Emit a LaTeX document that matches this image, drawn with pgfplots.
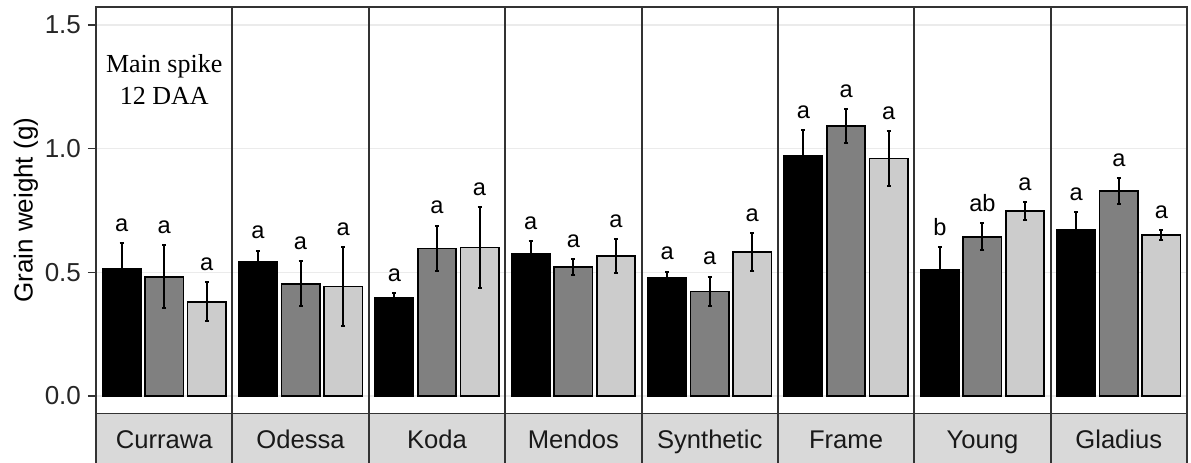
\documentclass[border=0pt]{standalone}
\usepackage{pgfplots}
\pgfplotsset{compat=1.18}
\usepackage{pgfplotstable}
\usepackage{fontspec}
\setmainfont{Liberation Sans}
\newfontfamily\serifx{Liberation Serif}

% x = panel*3.2 + (j - 0.4), j = 1..3
\pgfplotstableread{
x y err lab
0.6 0.516 0.101 a
3.8 0.543 0.045 a
7.0 0.396 0.022 a
10.2 0.573 0.053 a
13.4 0.477 0.026 a
16.6 0.970 0.105 a
19.8 0.512 0.090 b
23.0 0.671 0.072 a
}\serA
\pgfplotstableread{
x y err lab
1.6 0.482 0.127 a
4.8 0.454 0.090 a
8.0 0.597 0.092 a
11.2 0.522 0.032 a
14.4 0.423 0.060 a
17.6 1.092 0.067 a
20.8 0.644 0.055 ab
24.0 0.829 0.054 a
}\serB
\pgfplotstableread{
x y err lab
2.6 0.381 0.078 a
5.8 0.442 0.160 a
9.0 0.601 0.163 a
12.2 0.566 0.070 a
15.4 0.582 0.078 a
18.6 0.961 0.111 a
21.8 0.748 0.035 a
25.0 0.651 0.019 a
}\serC

\definecolor{border}{HTML}{333333}
\definecolor{stripfill}{HTML}{D9D9D9}
\definecolor{gridc}{HTML}{EBEBEB}

\begin{document}
\begin{tikzpicture}
\begin{axis}[
  name=ax,
  scale only axis,
  width=545.5pt, height=203.25pt,
  xmin=0, xmax=25.6,
  ymin=-0.0708, ymax=1.573,
  clip=false,
  axis line style={draw=border, line width=0.9pt},
  xtick=\empty,
  extra x ticks={3.2,6.4,9.6,12.8,16,19.2,22.4},
  extra x tick labels={},
  extra x tick style={grid=major, major grid style={draw=border, line width=1pt}, major tick length=0pt},
  ytick={0,0.5,1,1.5},
  ymajorgrids,
  grid style={draw=gridc, line width=0.7pt},
  tick align=outside,
  ytick pos=left,
  major tick length=4pt,
  tick style={draw=border, line width=0.7pt},
  yticklabel style={font=\fontsize{13}{15}\selectfont, text=black!85, /pgf/number format/.cd, fixed, fixed zerofill, precision=1, assume math mode=true},
]
\addplot[ybar, bar width=0.9, bar shift=0pt, fill=black, draw=black, line width=0.8pt,
  error bars/.cd, y dir=both, y explicit,
  error bar style={line width=1pt, black},
  error mark options={line width=1pt, mark size=1pt, black, rotate=90}]
  table[x=x, y=y, y error=err] {\serA};
\addplot[ybar, bar width=0.9, bar shift=0pt, fill=black!50, draw=black, line width=0.8pt,
  error bars/.cd, y dir=both, y explicit,
  error bar style={line width=1pt, black},
  error mark options={line width=1pt, mark size=1pt, black, rotate=90}]
  table[x=x, y=y, y error=err] {\serB};
\addplot[ybar, bar width=0.9, bar shift=0pt, fill=black!20, draw=black, line width=0.8pt,
  error bars/.cd, y dir=both, y explicit,
  error bar style={line width=1pt, black},
  error mark options={line width=1pt, mark size=1pt, black, rotate=90}]
  table[x=x, y=y, y error=err] {\serC};
% significance letters
\addplot[draw=none, mark=none, nodes near coords, point meta=explicit symbolic,
  nodes near coords style={anchor=base, inner sep=0pt, font=\fontsize{11.8}{13}\selectfont, text=black}]
  table[x=x, y expr=\thisrow{y}+\thisrow{err}+0.047, meta=lab] {\serA};
\addplot[draw=none, mark=none, nodes near coords, point meta=explicit symbolic,
  nodes near coords style={anchor=base, inner sep=0pt, font=\fontsize{11.8}{13}\selectfont, text=black}]
  table[x=x, y expr=\thisrow{y}+\thisrow{err}+0.047, meta=lab] {\serB};
\addplot[draw=none, mark=none, nodes near coords, point meta=explicit symbolic,
  nodes near coords style={anchor=base, inner sep=0pt, font=\fontsize{11.8}{13}\selectfont, text=black}]
  table[x=x, y expr=\thisrow{y}+\thisrow{err}+0.047, meta=lab] {\serC};
% strips
\draw[fill=stripfill, draw=border, line width=0.9pt] (axis cs:0,-0.0708) rectangle (axis cs:25.6,-0.32);
\draw[draw=border, line width=1pt] (axis cs:3.2,-0.0708) -- (axis cs:3.2,-0.32);
\draw[draw=border, line width=1pt] (axis cs:6.4,-0.0708) -- (axis cs:6.4,-0.32);
\draw[draw=border, line width=1pt] (axis cs:9.6,-0.0708) -- (axis cs:9.6,-0.32);
\draw[draw=border, line width=1pt] (axis cs:12.8,-0.0708) -- (axis cs:12.8,-0.32);
\draw[draw=border, line width=1pt] (axis cs:16,-0.0708) -- (axis cs:16,-0.32);
\draw[draw=border, line width=1pt] (axis cs:19.2,-0.0708) -- (axis cs:19.2,-0.32);
\draw[draw=border, line width=1pt] (axis cs:22.4,-0.0708) -- (axis cs:22.4,-0.32);
\path (axis cs:1.6,-0.2115) node[anchor=base, inner sep=0pt, font=\fontsize{12.8}{15}\selectfont, text=black!90] {Currawa};
\path (axis cs:4.8,-0.2115) node[anchor=base, inner sep=0pt, font=\fontsize{12.8}{15}\selectfont, text=black!90] {Odessa};
\path (axis cs:8.0,-0.2115) node[anchor=base, inner sep=0pt, font=\fontsize{12.8}{15}\selectfont, text=black!90] {Koda};
\path (axis cs:11.2,-0.2115) node[anchor=base, inner sep=0pt, font=\fontsize{12.8}{15}\selectfont, text=black!90] {Mendos};
\path (axis cs:14.4,-0.2115) node[anchor=base, inner sep=0pt, font=\fontsize{12.8}{15}\selectfont, text=black!90] {Synthetic};
\path (axis cs:17.6,-0.2115) node[anchor=base, inner sep=0pt, font=\fontsize{12.8}{15}\selectfont, text=black!90] {Frame};
\path (axis cs:20.8,-0.2115) node[anchor=base, inner sep=0pt, font=\fontsize{12.8}{15}\selectfont, text=black!90] {Young};
\path (axis cs:24.0,-0.2115) node[anchor=base, inner sep=0pt, font=\fontsize{12.8}{15}\selectfont, text=black!90] {Gladius};
\path (axis cs:1.6,1.278) node[align=center, font=\serifx\fontsize{13}{16}\selectfont] {Main spike\\12 DAA};
\end{axis}
\node[rotate=90, font=\fontsize{13}{15}\selectfont, text=black] at ([xshift=-35pt]ax.west) {Grain weight (g)};
\pgfresetboundingbox
\path[use as bounding box] ([shift={(-48pt,-24.25pt)}]ax.south west) rectangle ([shift={(2pt,3.5pt)}]ax.north east);
\end{tikzpicture}
\end{document}
